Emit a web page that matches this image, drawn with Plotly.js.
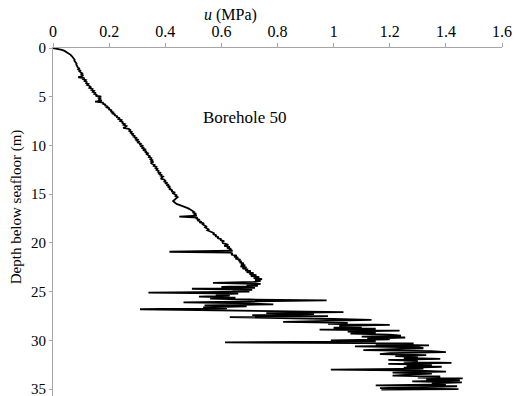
<!DOCTYPE html>
<html>
<head>
<meta charset="utf-8">
<script src="https://cdn.plot.ly/plotly-3.0.1.min.js"></script>
<style>
html,body{margin:0;padding:0;background:#fff}
#chart{width:524px;height:396px}
#chart svg text, #chart svg tspan { font-family: 'Liberation Serif', 'Times New Roman', serif !important; }
</style>
</head>
<body>
<div id="chart"></div>
<script>
// Depth below seafloor (m), segment 0-2 m
const depthTop = [0,0.1,0.2,0.3,0.4,0.5,0.6,0.7,0.8,0.9,1.0,1.1,1.2,1.3,1.4,1.5,1.6,1.7,1.8,1.9];
const uTop = [0,0.02,0.032,0.041,0.048,0.054,0.059,0.063,0.066,0.069,0.072,0.074,0.077,0.076,0.08,0.081,0.084,0.083,0.086,0.087];

// segment 2-20 m
const depthMid = [2.0,2.1,2.2,2.3,2.4,2.5,2.6,2.7,2.8,2.9,
  3.0,3.1,3.2,3.3,3.4,3.5,3.6,3.7,3.8,3.9,
  4.0,4.1,4.2,4.3,4.4,4.5,4.6,4.7,4.8,4.9,
  5.0,5.1,5.2,5.3,5.4,5.5,5.6,5.7,5.8,5.9,
  6.0,6.1,6.2,6.3,6.4,6.5,6.6,6.7,6.8,6.9,
  7.0,7.1,7.2,7.3,7.4,7.5,7.6,7.7,7.8,7.9,
  8.0,8.1,8.2,8.3,8.4,8.5,8.6,8.7,8.8,8.9,
  9.0,9.1,9.2,9.3,9.4,9.5,9.6,9.7,9.8,9.9,
  10.0,10.1,10.2,10.3,10.4,10.5,10.6,10.7,10.8,10.9,
  11.0,11.1,11.2,11.3,11.4,11.5,11.6,11.7,11.8,11.9,
  12.0,12.1,12.2,12.3,12.4,12.5,12.6,12.7,12.8,12.9,
  13.0,13.1,13.2,13.3,13.4,13.5,13.6,13.7,13.8,13.9,
  14.0,14.1,14.2,14.3,14.4,14.5,14.6,14.7,14.8,14.9,
  15.0,15.1,15.2,15.3,15.4,15.5,15.6,15.7,15.8,15.9,
  16.0,16.1,16.2,16.3,16.4,16.5,16.6,16.7,16.8,16.9,
  17.0,17.1,17.2,17.3,17.4,17.5,17.6,17.7,17.8,17.9,
  18.0,18.1,18.2,18.3,18.4,18.5,18.6,18.7,18.8,18.9,
  19.0,19.1,19.2,19.3,19.4,19.5,19.6,19.7,19.8,19.9,20.0];
const uMid = [0.088,0.093,0.09,0.097,0.094,0.1,0.104,0.099,0.108,0.103,
  0.09,0.112,0.108,0.117,0.113,0.12,0.118,0.126,0.122,0.13,
  0.134,0.13,0.14,0.137,0.146,0.142,0.15,0.147,0.157,0.152,
  0.172,0.16,0.168,0.165,0.174,0.15,0.18,0.176,0.188,0.184,
  0.196,0.192,0.202,0.198,0.21,0.205,0.214,0.21,0.222,0.218,
  0.23,0.226,0.238,0.234,0.244,0.24,0.25,0.246,0.256,0.252,
  0.262,0.258,0.25,0.27,0.275,0.272,0.28,0.277,0.285,0.282,
  0.29,0.287,0.296,0.292,0.302,0.298,0.306,0.303,0.312,0.308,
  0.318,0.314,0.322,0.319,0.328,0.324,0.332,0.33,0.338,0.334,
  0.34,0.345,0.342,0.35,0.347,0.354,0.35,0.358,0.348,0.356,
  0.362,0.359,0.368,0.365,0.372,0.369,0.376,0.374,0.382,0.378,
  0.386,0.383,0.392,0.388,0.384,0.396,0.4,0.397,0.405,0.402,
  0.41,0.407,0.415,0.412,0.418,0.416,0.426,0.422,0.432,0.428,
  0.436,0.44,0.437,0.444,0.44,0.435,0.43,0.428,0.432,0.436,
  0.44,0.45,0.462,0.47,0.478,0.485,0.49,0.496,0.502,0.498,
  0.51,0.505,0.512,0.45,0.515,0.512,0.52,0.517,0.526,0.522,
  0.538,0.534,0.542,0.546,0.542,0.55,0.554,0.55,0.56,0.565,
  0.575,0.57,0.582,0.578,0.59,0.586,0.6,0.596,0.61,0.604,0.605];

// segment 20-35 m
const depthLow = [20.1,20.2,20.3,20.4,20.5,20.6,20.7,20.8,20.9,21.0,
  21.1,21.2,21.3,21.4,21.5,21.6,21.7,21.8,21.9,22.0,
  22.1,22.2,22.3,22.4,22.5,22.6,22.7,22.8,22.9,23.0,
  23.1,23.2,23.3,23.4,23.5,23.6,23.7,23.8,23.9,24.0,
  24.1,24.2,24.3,24.4,24.5,24.6,24.7,24.8,24.9,25.0,
  25.1,25.2,25.3,25.4,25.5,25.6,25.7,25.8,25.9,26.0,
  26.1,26.2,26.3,26.4,26.5,26.6,26.7,26.8,26.9,27.0,
  27.1,27.2,27.3,27.4,27.5,27.6,27.7,27.8,27.9,28.0,
  28.1,28.2,28.3,28.4,28.5,28.6,28.7,28.8,28.9,29.0,
  29.1,29.2,29.3,29.4,29.5,29.6,29.7,29.8,29.9,30.0,
  30.1,30.2,30.3,30.4,30.5,30.6,30.7,30.8,30.9,31.0,
  31.1,31.2,31.3,31.4,31.5,31.6,31.7,31.8,31.9,32.0,
  32.1,32.2,32.3,32.4,32.5,32.6,32.7,32.8,32.9,33.0,
  33.1,33.2,33.3,33.4,33.5,33.6,33.7,33.8,33.9,34.0,
  34.1,34.2,34.3,34.4,34.5,34.6,34.7,34.8,34.9,35.0,35.05];
const uLow = [0.615,0.625,0.61,0.63,0.62,0.635,0.628,0.64,0.415,0.632,
  0.64,0.635,0.655,0.645,0.66,0.65,0.668,0.66,0.672,0.665,
  0.68,0.67,0.685,0.668,0.69,0.675,0.695,0.685,0.705,0.69,
  0.715,0.7,0.725,0.705,0.735,0.715,0.745,0.72,0.74,0.715,
  0.57,0.74,0.69,0.73,0.6,0.72,0.495,0.71,0.64,0.7,
  0.34,0.66,0.58,0.63,0.52,0.65,0.56,0.7,0.975,0.6,
  0.465,0.7,0.785,0.54,0.69,0.535,0.62,0.31,0.61,0.72,
  1.035,0.76,0.93,0.71,0.98,0.63,0.9,1.0,1.135,0.92,
  0.82,1.05,0.98,1.2,1.02,1.1,1.0,1.15,0.95,1.235,
  1.05,1.15,1.06,1.2,1.24,1.1,1.255,1.12,1.2,0.99,
  1.15,0.613,1.285,1.15,1.34,1.076,1.3,1.32,1.16,1.106,
  1.35,1.4,1.2,1.165,1.33,1.22,1.3,1.25,1.38,1.195,
  1.3,1.25,1.42,1.195,1.35,1.26,1.385,1.25,1.32,0.99,
  1.3,1.4,1.21,1.35,1.27,1.21,1.38,1.3,1.46,1.33,
  1.45,1.28,1.457,1.35,1.4,1.15,1.44,1.3,1.165,1.445,1.17];

const xTicks = [0,0.2,0.4,0.6,0.8,1,1.2,1.4,1.6];
const xTickText = ['0','0.2','0.4','0.6','0.8','1','1.2','1.4','1.6'];
const yTicks = [0,5,10,15,20,25,30,35];

const depth = depthTop.concat(depthMid, depthLow);
const u = uTop.concat(uMid, uLow);

const fam = "Liberation Serif";
const axisColor = '#a6a6a6';

const trace = {
  x: u, y: depth, type: 'scatter', mode: 'lines',
  line: {color: '#000', width: 1.8},
  hoverinfo: 'skip', showlegend: false
};

const layout = {
  width: 524, height: 396,
  margin: {l: 53, r: 22, t: 48, b: 0, pad: 0},
  paper_bgcolor: '#fff', plot_bgcolor: '#fff',
  font: {family: fam, size: 16, color: '#000'},
  xaxis: {
    side: 'top', range: [0, 1.6], tickvals: xTicks, ticktext: xTickText,
    ticks: 'outside', ticklen: 4, tickcolor: axisColor, tickwidth: 1,
    showline: true, linecolor: axisColor, linewidth: 1,
    showgrid: false, zeroline: false, ticklabeloverflow: 'allow',
    tickfont: {family: fam, size: 16, color: '#000'}
  },
  yaxis: {
    range: [35.7, 0], tickvals: yTicks,
    ticks: 'outside', ticklen: 3, tickcolor: axisColor, tickwidth: 1,
    showline: true, linecolor: axisColor, linewidth: 1,
    showgrid: false, zeroline: false, ticklabeloverflow: 'allow',
    tickfont: {family: fam, size: 15, color: '#000'}
  },
  annotations: [
    {text: '<i>u</i> (MPa)', xref: 'x', yref: 'paper', x: 0.634, y: 1.095,
     xanchor: 'center', yanchor: 'middle', showarrow: false,
     font: {family: fam, size: 16, color: '#000'}},
    {text: 'Depth below seafloor (m)', xref: 'paper', yref: 'paper', x: -0.082, y: 0.543,
     xanchor: 'center', yanchor: 'middle', textangle: -90, showarrow: false,
     font: {family: fam, size: 15, color: '#000'}},
    {text: 'Borehole 50', xref: 'x', yref: 'y', x: 0.684, y: 7.08,
     xanchor: 'center', yanchor: 'middle', showarrow: false,
     font: {family: fam, size: 17, color: '#000'}}
  ]
};

Plotly.newPlot('chart', [trace], layout, {displayModeBar: false});
</script>
</body>
</html>
